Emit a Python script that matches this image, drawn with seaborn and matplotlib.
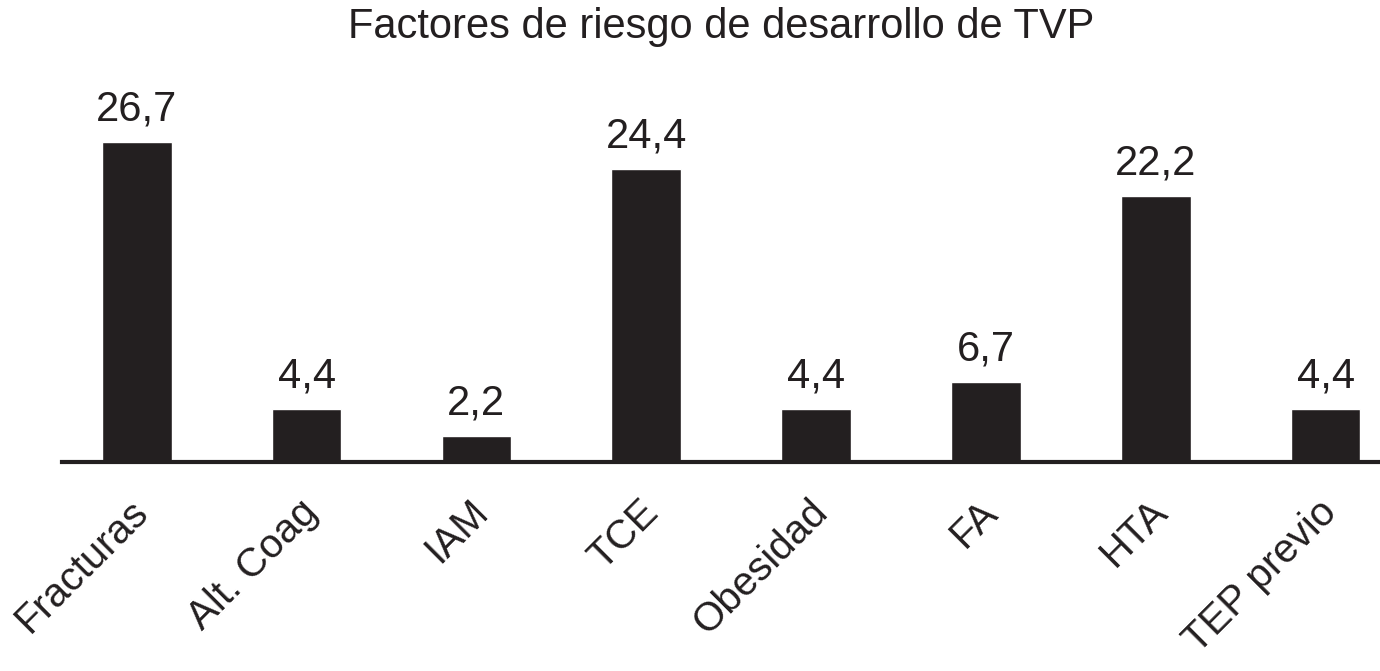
import matplotlib
matplotlib.use("Agg")
import matplotlib.pyplot as plt
import matplotlib.transforms as mtransforms
import seaborn as sns
import pandas as pd

# Data
categories = ["Fracturas", "Alt. Coag", "IAM", "TCE", "Obesidad", "FA", "HTA", "TEP previo"]
values = [26.7, 4.4, 2.2, 24.4, 4.4, 6.7, 22.2, 4.4]
value_labels = ["26,7", "4,4", "2,2", "24,4", "4,4", "6,7", "22,2", "4,4"]
title = "Factores de riesgo de desarrollo de TVP"

df = pd.DataFrame({"factor": categories, "pct": values})

sns.set_theme(style="white")
plt.rcParams["font.family"] = ["Liberation Sans", "DejaVu Sans"]

bar_color = "#231f20"

fig = plt.figure(figsize=(13.8, 6.71), dpi=100)
ax = fig.add_axes([62 / 1380, (671 - 462) / 671, 1 - 62 / 1380, (462 - 100) / 671])

sns.barplot(data=df, x="factor", y="pct", color=bar_color, width=0.41,
            saturation=1, ax=ax)

ax.set_xlim(-0.44, 7.32)
ax.set_ylim(0, (462 - 100) / 12.0)

for i, (v, lab) in enumerate(zip(values, value_labels)):
    ax.annotate(lab, (i, v), xytext=(0, 9), textcoords="offset points",
                ha="center", va="bottom", fontsize=30, color=bar_color)

for s in ["top", "right", "left"]:
    ax.spines[s].set_visible(False)
ax.spines["bottom"].set_color(bar_color)
ax.spines["bottom"].set_linewidth(3)
ax.set_yticks([])
ax.set_xlabel("")
ax.set_ylabel("")
ax.tick_params(axis="x", length=0, pad=22)
shift = mtransforms.ScaledTranslation(-8 / 100, 0, fig.dpi_scale_trans)
for t in ax.get_xticklabels():
    t.set_rotation(45)
    t.set_ha("right")
    t.set_rotation_mode("anchor")
    t.set_fontsize(29)
    t.set_color(bar_color)
    t.set_transform(t.get_transform() + shift)

fig.text(0.5225, 0.99, title, ha="center", va="top", fontsize=30, color=bar_color)

fig.savefig("out.png", dpi=100, facecolor="white")
